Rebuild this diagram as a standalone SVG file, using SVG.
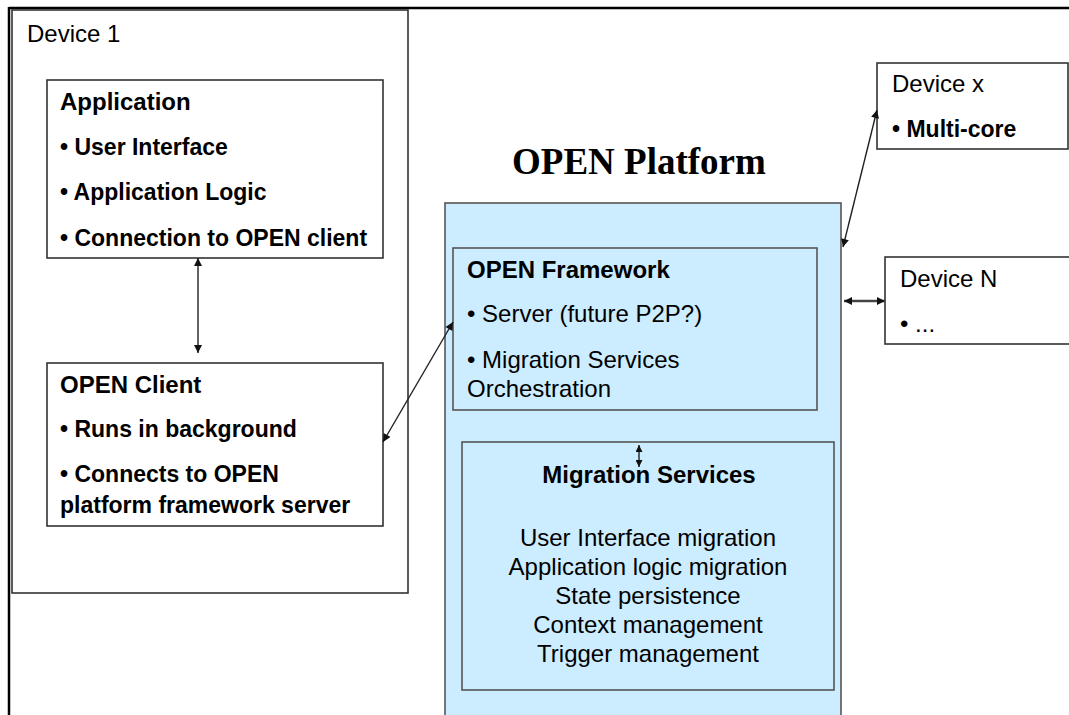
<svg xmlns="http://www.w3.org/2000/svg" width="1069" height="715" viewBox="0 0 1069 715">
<style>
.box{fill:#fff;stroke:#333;stroke-width:1.6}
.blue{fill:#CCECFF;stroke:#555;stroke-width:1.6}
.t{font-family:"Liberation Sans",Arial,sans-serif;fill:#000}
.n{font-size:24px}
.b{font-size:23px;font-weight:bold}
.h{font-size:24px;font-weight:bold}
.c{text-anchor:middle}
.ln{stroke:#222;stroke-width:1.4;fill:none}
</style>
<defs>
<marker id="ah" viewBox="0 0 10 10" refX="10" refY="5" markerWidth="10" markerHeight="8" markerUnits="userSpaceOnUse" orient="auto-start-reverse">
<path d="M0,0 L10,5 L0,10 z" fill="#111"/>
</marker>
<marker id="ahs" viewBox="0 0 10 10" refX="10" refY="5" markerWidth="7" markerHeight="7" markerUnits="userSpaceOnUse" orient="auto-start-reverse">
<path d="M0,0 L10,5 L0,10 z" fill="#111"/>
</marker>
</defs>
<rect width="1069" height="715" fill="#fff"/>
<g id="frame">
<line x1="9" y1="8" x2="1069" y2="8" stroke="#000" stroke-width="2.5"/>
<line x1="9" y1="7" x2="9" y2="715" stroke="#000" stroke-width="2.5"/>
</g>
<g id="device1">
<rect class="box" x="12" y="10" width="396" height="583"/>
<text class="t n" x="27" y="42">Device 1</text>
</g>
<g id="application">
<rect class="box" x="47" y="80" width="336" height="178"/>
<text class="t h" x="60" y="110">Application</text>
<text class="t b" x="60" y="155">• User Interface</text>
<text class="t b" x="60" y="200">• Application Logic</text>
<text class="t b" x="60" y="246">• Connection to OPEN client</text>
</g>
<g id="openclient">
<rect class="box" x="47" y="363" width="336" height="163"/>
<text class="t h" x="60" y="393">OPEN Client</text>
<text class="t b" x="60" y="437">• Runs in background</text>
<text class="t b" x="60" y="482">• Connects to OPEN</text>
<text class="t b" x="60" y="513">platform framework server</text>
</g>
<g id="platform">
<text class="t" x="512" y="174" style="font-family:'Liberation Serif','Times New Roman',serif;font-size:37px;font-weight:bold">OPEN Platform</text>
<rect class="blue" x="445" y="203" width="396" height="520"/>
</g>
<g id="framework">
<rect class="blue" x="453" y="248" width="364" height="162"/>
<text class="t h" x="467" y="278">OPEN Framework</text>
<text class="t n" x="467" y="322">• Server (future P2P?)</text>
<text class="t n" x="467" y="368">• Migration Services</text>
<text class="t n" x="467" y="397">Orchestration</text>
</g>
<g id="migration">
<rect class="blue" x="462" y="442" width="372" height="248"/>
<text class="t h c" x="649" y="483">Migration Services</text>
<text class="t n c" x="648" y="546">User Interface migration</text>
<text class="t n c" x="648" y="575">Application logic migration</text>
<text class="t n c" x="648" y="604">State persistence</text>
<text class="t n c" x="648" y="633">Context management</text>
<text class="t n c" x="648" y="662">Trigger management</text>
</g>
<g id="devicex">
<rect class="box" x="877" y="63" width="191" height="86"/>
<text class="t n" x="892" y="92">Device x</text>
<text class="t b" x="892" y="137">• Multi-core</text>
</g>
<g id="deviceN">
<rect class="box" x="885" y="257" width="190" height="87"/>
<text class="t n" x="900" y="287">Device N</text>
<text class="t n" x="900" y="332">• ...</text>
</g>
<g id="connectors">
<line class="ln" x1="198" y1="258" x2="198" y2="353" marker-start="url(#ah)" marker-end="url(#ah)"/>
<line class="ln" x1="383" y1="442" x2="453" y2="322" marker-start="url(#ah)" marker-end="url(#ah)"/>
<line class="ln" x1="877" y1="110" x2="843" y2="247" marker-start="url(#ah)" marker-end="url(#ah)"/>
<line x1="844" y1="301" x2="885" y2="301" stroke="#444" stroke-width="2.5" marker-start="url(#ah)" marker-end="url(#ah)"/>
<line class="ln" x1="639" y1="445" x2="639" y2="467" marker-start="url(#ahs)" marker-end="url(#ahs)"/>
</g>
</svg>
